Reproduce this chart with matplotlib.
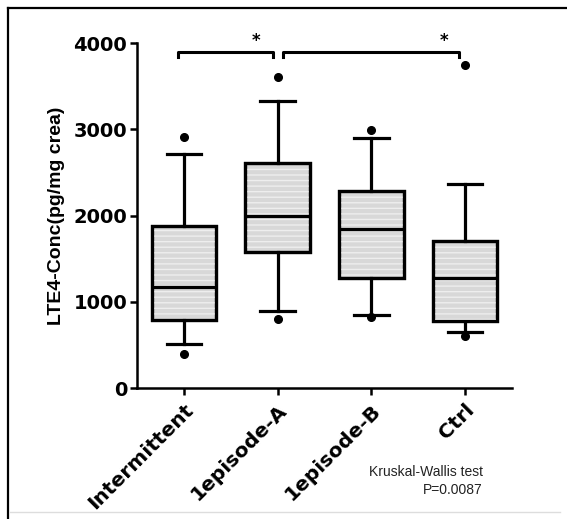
import numpy as np
import matplotlib
matplotlib.use('Agg')
import matplotlib.pyplot as plt
from matplotlib.lines import Line2D
from matplotlib.patches import PathPatch

# LTE4 concentration per group (pg/mg creatinine), box summary values
groups = ['Intermittent', '1episode-A', '1episode-B', 'Ctrl']
whislo = [510, 890, 845, 650]
q1 = [790, 1580, 1275, 780]
med = [1170, 1990, 1845, 1270]
q3 = [1880, 2610, 2285, 1705]
whishi = [2715, 3330, 2900, 2365]
fliers = [[400, 2910], [800, 3610], [820, 2990], [600, 3750]]

yticks = [0, 1000, 2000, 3000, 4000]

# significance brackets: (left x, right x, star x)
brackets = [(0.94, 1.95, 1.77), (2.06, 3.94, 3.78)]
bracket_y = 3900
bracket_tip = 3840
star_y = 4020

plt.rcParams['hatch.linewidth'] = 1.0

fig = plt.figure(figsize=(5.67, 5.19), dpi=100)
ax = fig.add_axes((0.2416, 0.2524, 0.6614, 0.6647))

stats = []
for i, g in enumerate(groups):
    stats.append(dict(label=g, whislo=whislo[i], q1=q1[i], med=med[i],
                      q3=q3[i], whishi=whishi[i], fliers=fliers[i]))

bp = ax.bxp(stats, positions=np.arange(1, len(groups) + 1), widths=0.69,
            capwidths=0.37, patch_artist=True,
            boxprops=dict(facecolor='#d8d8d8', edgecolor='black', linewidth=2.3),
            medianprops=dict(color='black', linewidth=2.3),
            whiskerprops=dict(color='black', linewidth=2.3),
            capprops=dict(color='black', linewidth=2.3),
            flierprops=dict(marker='o', markerfacecolor='black', markeredgecolor='black',
                            markersize=5.5, linestyle='none'))

# faint horizontal stripes inside each box, outline redrawn on top
for box in bp['boxes']:
    box.set_zorder(2)
    stripes = PathPatch(box.get_path(), facecolor='none', edgecolor='#eeeeee',
                        linewidth=0, hatch='---', zorder=2.1)
    ax.add_patch(stripes)
    outline = PathPatch(box.get_path(), facecolor='none', edgecolor='black',
                        linewidth=2.3, zorder=2.2)
    ax.add_patch(outline)
for m in bp['medians']:
    m.set_zorder(2.3)

ax.set_xlim(0.5, 4.5)
ax.set_ylim(0, 4000)
ax.set_yticks(yticks)
ax.set_xticks(np.arange(1, len(groups) + 1))
ax.set_xticklabels(groups, rotation=45, ha='right', rotation_mode='anchor',
                   fontsize=14.5, fontweight='bold', family='DejaVu Sans')
for lab in ax.get_yticklabels():
    lab.set_fontsize(14)
    lab.set_fontweight('bold')
    lab.set_family('DejaVu Sans')

ax.spines['top'].set_visible(False)
ax.spines['right'].set_visible(False)
ax.spines['left'].set_linewidth(1.8)
ax.spines['bottom'].set_linewidth(1.8)
ax.tick_params(axis='both', direction='out', length=5, width=1.8, pad=2)
ax.tick_params(axis='x', pad=4)
ax.set_ylabel('LTE4-Conc(pg/mg crea)', fontsize=14, fontweight='bold',
              family='Liberation Sans', labelpad=6)

for x0, x1, xs in brackets:
    ax.plot([x0, x0, x1, x1], [bracket_tip, bracket_y, bracket_y, bracket_tip],
            color='black', linewidth=2.2, clip_on=False)
    ax.text(xs, star_y, '*', ha='center', va='center', fontsize=12,
            fontweight='bold', clip_on=False)

fig.text(0.851, 0.073, 'Kruskal-Wallis test\nP=0.0087', ha='right', va='center',
         fontsize=10, family='Liberation Sans', linespacing=1.35, color='#222222')

# outer frame
fig.add_artist(Line2D([8 / 567, 1.0], [1 - 8 / 519, 1 - 8 / 519], color='black', linewidth=1.6))
fig.add_artist(Line2D([8 / 567, 8 / 567], [0, 1 - 8 / 519], color='black', linewidth=1.6))
fig.add_artist(Line2D([10 / 567, 560 / 567], [7 / 519, 7 / 519], color='#dddddd', linewidth=1.0))

fig.savefig('out.png', dpi=100)
